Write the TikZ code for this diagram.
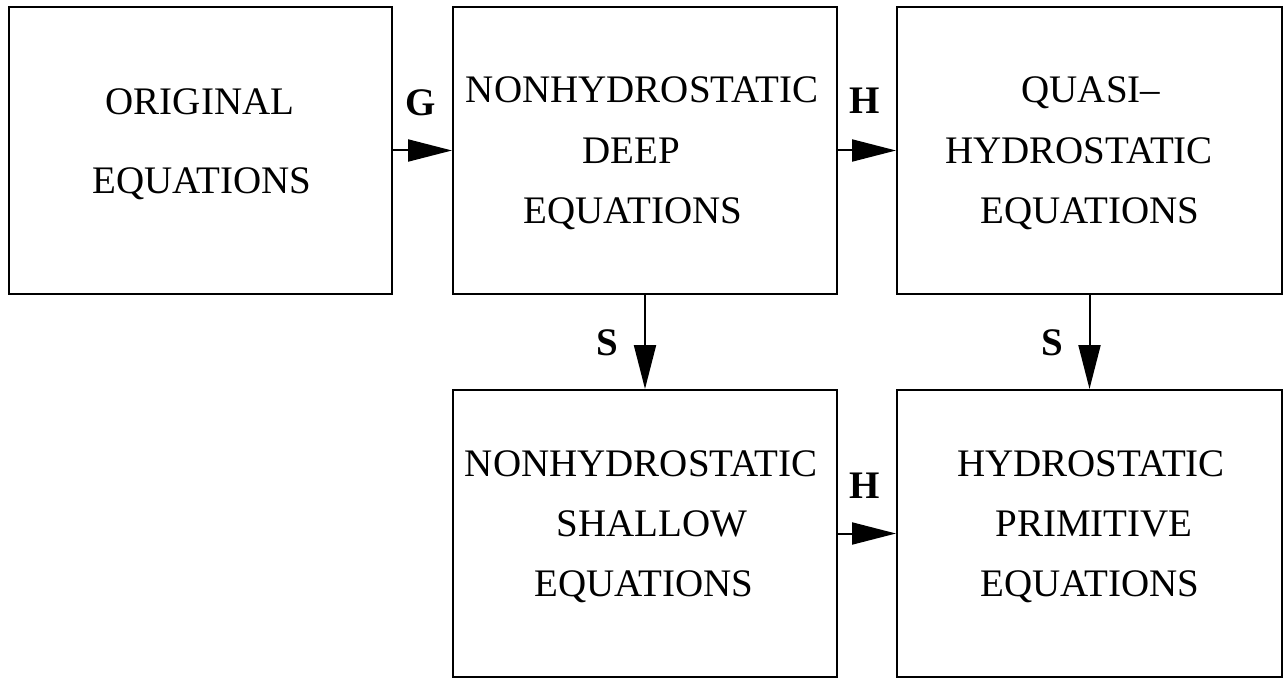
\documentclass[tikz,border=0pt]{standalone}
\usepackage{fontspec}
\setmainfont{Liberation Serif}
\usetikzlibrary{arrows.meta}
\tikzset{
  box/.style={draw, line width=2pt, inner sep=0pt, minimum height=287pt},
  txt/.style={anchor=base, inner sep=0pt, font=\fontsize{39}{46}\selectfont},
  lbl/.style={anchor=base, inner sep=0pt, font=\fontsize{39}{46}\selectfont\bfseries},
  arr/.style={line width=2pt, -{Triangle[length=44pt,width=22pt]}}
}
\begin{document}
\begin{tikzpicture}[x=1pt,y=-1pt]
\useasboundingbox (0,0) rectangle (1283,679);
\node[box, minimum width=383pt] (b1) at (200.5,150.5) {};
\node[box, minimum width=384pt] (b2) at (645,150.5) {};
\node[box, minimum width=385pt] (b3) at (1089.5,150.5) {};
\node[box, minimum width=384pt] (b4) at (645,533.5) {};
\node[box, minimum width=385pt] (b5) at (1089.5,533.5) {};
% texts
\node[txt] (t1a) at (200,115) {ORIGINAL};
\node[txt] (t1b) at (202,194) {EQUATIONS};
\node[txt] (t2a) at (642,103) {NONHYDROSTATIC};
\node[txt] (t2b) at (631,164) {DEEP};
\node[txt] (t2c) at (633,224) {EQUATIONS};
\node[txt] (t3a) at (1091,103) {QUASI–};
\node[txt] (t3b) at (1079,164) {HYDROSTATIC};
\node[txt] (t3c) at (1090,224) {EQUATIONS};
\node[txt] (t4a) at (641,476) {NONHYDROSTATIC};
\node[txt] (t4b) at (652,536) {SHALLOW};
\node[txt] (t4c) at (644,596) {EQUATIONS};
\node[txt] (t5a) at (1091,476) {HYDROSTATIC};
\node[txt] (t5b) at (1094,536) {PRIMITIVE};
\node[txt] (t5c) at (1090,596) {EQUATIONS};
% arrows
\draw[arr] (b1.east) -- (b2.west);
\draw[arr] (b2.east) -- (b3.west);
\draw[arr] (b2.south) -- (b4.north);
\draw[arr] (b3.south) -- (b5.north);
\draw[arr] (b4.east) -- (b5.west);
% labels
\node[lbl] (lg) at (421,116) {G};
\node[lbl] (lh1) at (865,114) {H};
\node[lbl] (ls1) at (607,355) {S};
\node[lbl] (ls2) at (1052,355) {S};
\node[lbl] (lh2) at (865,498) {H};
\end{tikzpicture}
\end{document}
